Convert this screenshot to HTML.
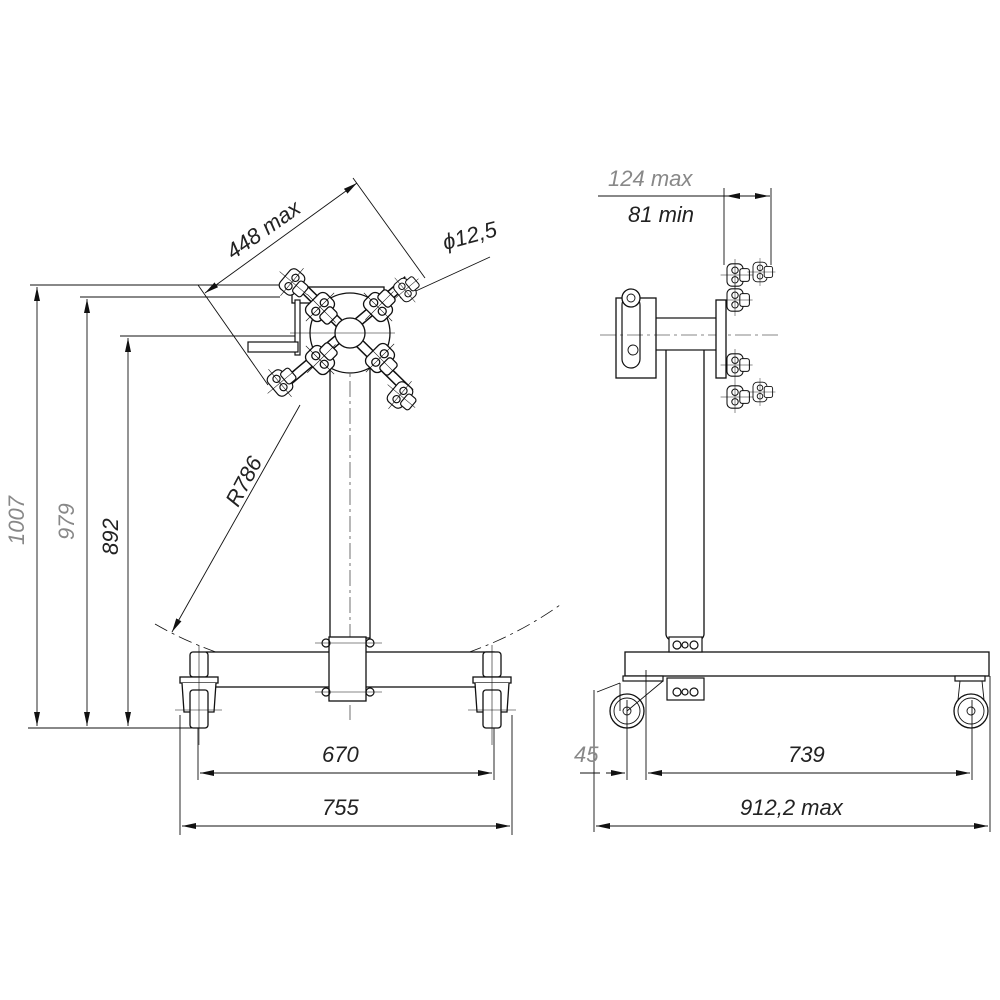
<!DOCTYPE html>
<html><head><meta charset="utf-8"><style>
html,body{margin:0;padding:0;background:#fff}
svg{display:block}
text{font-family:"Liberation Sans",sans-serif;font-style:italic;font-size:22px;fill:#222}
</style></head><body>
<svg width="1000" height="1000" viewBox="0 0 1000 1000" xmlns="http://www.w3.org/2000/svg">
<defs>
<marker id="a" markerWidth="14" markerHeight="6" refX="14" refY="3" orient="auto" markerUnits="userSpaceOnUse"><path d="M0,0 L14,3 L0,6 Z" fill="#111"/></marker>
<marker id="b" markerWidth="14" markerHeight="6" refX="0" refY="3" orient="auto" markerUnits="userSpaceOnUse"><path d="M14,0 L0,3 L14,6 Z" fill="#111"/></marker>
<g id="clamp" stroke="#111" fill="#fff" stroke-width="1.3">
<rect x="-10" y="-14" width="20" height="28" rx="6"/>
<circle cx="0" cy="-6" r="4"/><circle cx="0" cy="6" r="4"/>
<rect x="6" y="-8" width="12" height="16" rx="3"/>
<line x1="-18" y1="0" x2="22" y2="0" stroke-width="0.6"/>
<line x1="0" y1="-20" x2="0" y2="20" stroke-width="0.6"/>
</g>
</defs>
<g stroke="#111" fill="none" stroke-width="0.9">
<!-- LEFT VIEW dims -->
<line x1="30" y1="285" x2="290" y2="285"/>
<line x1="80" y1="297" x2="280" y2="297"/>
<line x1="120" y1="336" x2="300" y2="336"/>
<line x1="28" y1="728" x2="200" y2="728"/>
<line x1="37" y1="287" x2="37" y2="726" marker-start="url(#b)" marker-end="url(#a)"/>
<line x1="87" y1="299" x2="87" y2="726" marker-start="url(#b)" marker-end="url(#a)"/>
<line x1="128" y1="338" x2="128" y2="726" marker-start="url(#b)" marker-end="url(#a)"/>
<!-- bottom dims -->
<line x1="198" y1="700" x2="198" y2="780"/><line x1="494" y1="700" x2="494" y2="780"/>
<line x1="180" y1="715" x2="180" y2="835"/><line x1="512" y1="715" x2="512" y2="835"/>
<line x1="200" y1="773" x2="492" y2="773" marker-start="url(#b)" marker-end="url(#a)"/>
<line x1="182" y1="826" x2="510" y2="826" marker-start="url(#b)" marker-end="url(#a)"/>
<!-- 448 max -->
<line x1="205" y1="293" x2="357" y2="183" marker-start="url(#b)" marker-end="url(#a)"/>
<line x1="353" y1="178" x2="425" y2="278"/>
<line x1="198" y1="285" x2="268" y2="385"/>
<!-- phi -->
<line x1="418" y1="290" x2="490" y2="257"/>
<line x1="400" y1="298" x2="418" y2="290" marker-end="url(#a)"/>
<!-- R786 -->
<line x1="300" y1="405" x2="172" y2="632" marker-end="url(#a)"/>
<path d="M155,624 A377,377 0 0 0 560,605" stroke-dasharray="14,5,3,5" stroke-width="0.8"/>
<!-- column -->
<rect x="330" y="350" width="40" height="288" fill="#fff" stroke-width="1.3"/>
<line x1="350" y1="300" x2="350" y2="720" stroke-dasharray="16,4,3,4" stroke-width="0.6"/>
<!-- base -->
<rect x="206" y="652" width="288" height="35" fill="#fff" stroke-width="1.3"/>
<rect x="329" y="637" width="37" height="64" fill="#fff" stroke-width="1.3"/>
<g stroke-width="1.2"><circle cx="326" cy="643" r="4"/><circle cx="370" cy="643" r="4"/><circle cx="326" cy="692" r="4"/><circle cx="370" cy="692" r="4"/></g>
<line x1="315" y1="643" x2="382" y2="643" stroke-width="0.6"/><line x1="315" y1="692" x2="382" y2="692" stroke-width="0.6"/>
<!-- casters left -->
<g stroke-width="1.3" fill="#fff">
<rect x="190" y="652" width="18" height="25" rx="3"/>
<rect x="180" y="677" width="38" height="6"/>
<path d="M182,683 L184,712 L214,712 L216,683"/>
<rect x="190" y="690" width="18" height="38" rx="3"/>
<rect x="483" y="652" width="18" height="25" rx="3"/>
<rect x="473" y="677" width="38" height="6"/>
<path d="M475,683 L477,712 L507,712 L509,683"/>
<rect x="483" y="690" width="18" height="38" rx="3"/>
</g>
<line x1="199" y1="645" x2="199" y2="745" stroke-width="0.6"/><line x1="492" y1="645" x2="492" y2="745" stroke-width="0.6"/>
<line x1="175" y1="710" x2="222" y2="710" stroke-width="0.6"/><line x1="468" y1="710" x2="516" y2="710" stroke-width="0.6"/>
<!-- head left -->
<rect x="292" y="287" width="92" height="16" fill="#fff" stroke-width="1.3"/>
<rect x="295" y="300" width="5" height="55" fill="#fff" stroke-width="1.2"/>
<rect x="248" y="342" width="50" height="10" fill="#fff" stroke-width="1.2"/>
<circle cx="350" cy="333" r="40" fill="#fff" stroke-width="1.3"/>
<g stroke-width="10" stroke="#111"><line x1="290" y1="275" x2="410" y2="393"/><line x1="408" y1="280" x2="280" y2="388"/></g>
<g stroke-width="7" stroke="#fff"><line x1="290" y1="275" x2="410" y2="393"/><line x1="408" y1="280" x2="280" y2="388"/></g>
<circle cx="350" cy="333" r="15" fill="#fff" stroke-width="1.3"/>
<line x1="290" y1="333" x2="395" y2="333" stroke-width="0.6"/>
<use href="#clamp" transform="translate(320,307) rotate(45)"/>
<use href="#clamp" transform="translate(378,307) rotate(-45)"/>
<use href="#clamp" transform="translate(320,360) rotate(-45)"/>
<use href="#clamp" transform="translate(380,358) rotate(45)"/>
<use href="#clamp" transform="translate(292,282) rotate(40) scale(0.9)"/>
<use href="#clamp" transform="translate(405,290) rotate(-40) scale(0.8)"/>
<use href="#clamp" transform="translate(280,383) rotate(-40) scale(0.9)"/>
<use href="#clamp" transform="translate(400,395) rotate(40) scale(0.9)"/>

<!-- RIGHT VIEW -->
<line x1="598" y1="196" x2="770" y2="196"/>
<line x1="724" y1="188" x2="724" y2="265"/><line x1="771" y1="188" x2="771" y2="265"/>
<line x1="726" y1="196" x2="740" y2="196" marker-start="url(#b)"/><line x1="755" y1="196" x2="769" y2="196" marker-end="url(#a)"/>
<rect x="666" y="340" width="38" height="300" rx="6" fill="#fff" stroke-width="1.3"/>
<rect x="655" y="318" width="63" height="32" fill="#fff" stroke-width="1.2"/>
<rect x="616" y="298" width="40" height="80" fill="#fff" stroke-width="1.3"/>
<rect x="622" y="296" width="18" height="72" rx="9" fill="#fff" stroke-width="1.2"/>
<circle cx="631" cy="298" r="9" fill="#fff" stroke-width="1.3"/><circle cx="631" cy="298" r="4"/>
<circle cx="633" cy="350" r="5"/>
<line x1="600" y1="335" x2="780" y2="335" stroke-dasharray="16,4,3,4" stroke-width="0.6"/>
<rect x="716" y="300" width="10" height="78" fill="#fff" stroke-width="1.3"/>
<use href="#clamp" transform="translate(735,275) scale(0.8)"/>
<use href="#clamp" transform="translate(735,300) scale(0.8)"/>
<use href="#clamp" transform="translate(760,272) scale(0.7)"/>
<use href="#clamp" transform="translate(735,365) scale(0.8)"/>
<use href="#clamp" transform="translate(735,397) scale(0.8)"/>
<use href="#clamp" transform="translate(760,392) scale(0.7)"/>
<!-- base right -->
<rect x="625" y="652" width="364" height="24" fill="#fff" stroke-width="1.3"/>
<rect x="669" y="637" width="33" height="15" fill="#fff" stroke-width="1.2"/>
<rect x="667" y="678" width="37" height="22" fill="#fff" stroke-width="1.2"/>
<g stroke-width="1.2"><circle cx="677" cy="645" r="4"/><circle cx="685" cy="645" r="3"/><circle cx="694" cy="645" r="4"/><circle cx="677" cy="692" r="4"/><circle cx="685" cy="692" r="3"/><circle cx="694" cy="692" r="4"/></g>
<rect x="623" y="676" width="40" height="5" fill="#fff" stroke-width="1.2"/>
<circle cx="627" cy="711" r="17" fill="#fff" stroke-width="1.3"/><circle cx="627" cy="711" r="13"/><circle cx="627" cy="711" r="4"/>
<path d="M627,711 L663,681 M620,683 L620,711 M597,692 L620,683"/>
<rect x="955" y="676" width="30" height="5" fill="#fff" stroke-width="1.2"/>
<path d="M960,681 L958,700 M982,681 L984,700"/>
<circle cx="971" cy="711" r="17" fill="#fff" stroke-width="1.3"/><circle cx="971" cy="711" r="13"/><circle cx="971" cy="711" r="4"/>
<line x1="594" y1="690" x2="594" y2="832"/><line x1="627" y1="700" x2="627" y2="780"/><line x1="646" y1="670" x2="646" y2="780"/>
<line x1="972" y1="700" x2="972" y2="780"/><line x1="990" y1="676" x2="990" y2="832"/>
<line x1="606" y1="773" x2="625" y2="773" marker-end="url(#a)"/>
<line x1="648" y1="773" x2="970" y2="773" marker-start="url(#b)" marker-end="url(#a)"/>
<line x1="580" y1="773" x2="600" y2="773"/>
<line x1="596" y1="826" x2="988" y2="826" marker-start="url(#b)" marker-end="url(#a)"/>
</g>
<text x="0" y="0" transform="translate(24,545) rotate(-90)" fill="#888" style="fill:#888">1007</text>
<text x="0" y="0" transform="translate(74,540) rotate(-90)" style="fill:#888">979</text>
<text x="0" y="0" transform="translate(118,555) rotate(-90)">892</text>
<text x="0" y="0" transform="translate(238,508) rotate(-62)">R786</text>
<text x="0" y="0" transform="translate(233,260) rotate(-35)">448 max</text>
<text x="445" y="250" transform="rotate(-15 445 250)">ϕ12,5</text>
<text x="322" y="762">670</text>
<text x="322" y="815">755</text>
<text x="608" y="186" style="fill:#888">124 max</text>
<text x="628" y="222">81 min</text>
<text x="574" y="762" style="fill:#888">45</text>
<text x="788" y="762">739</text>
<text x="740" y="815">912,2 max</text>
</svg>
</body></html>
